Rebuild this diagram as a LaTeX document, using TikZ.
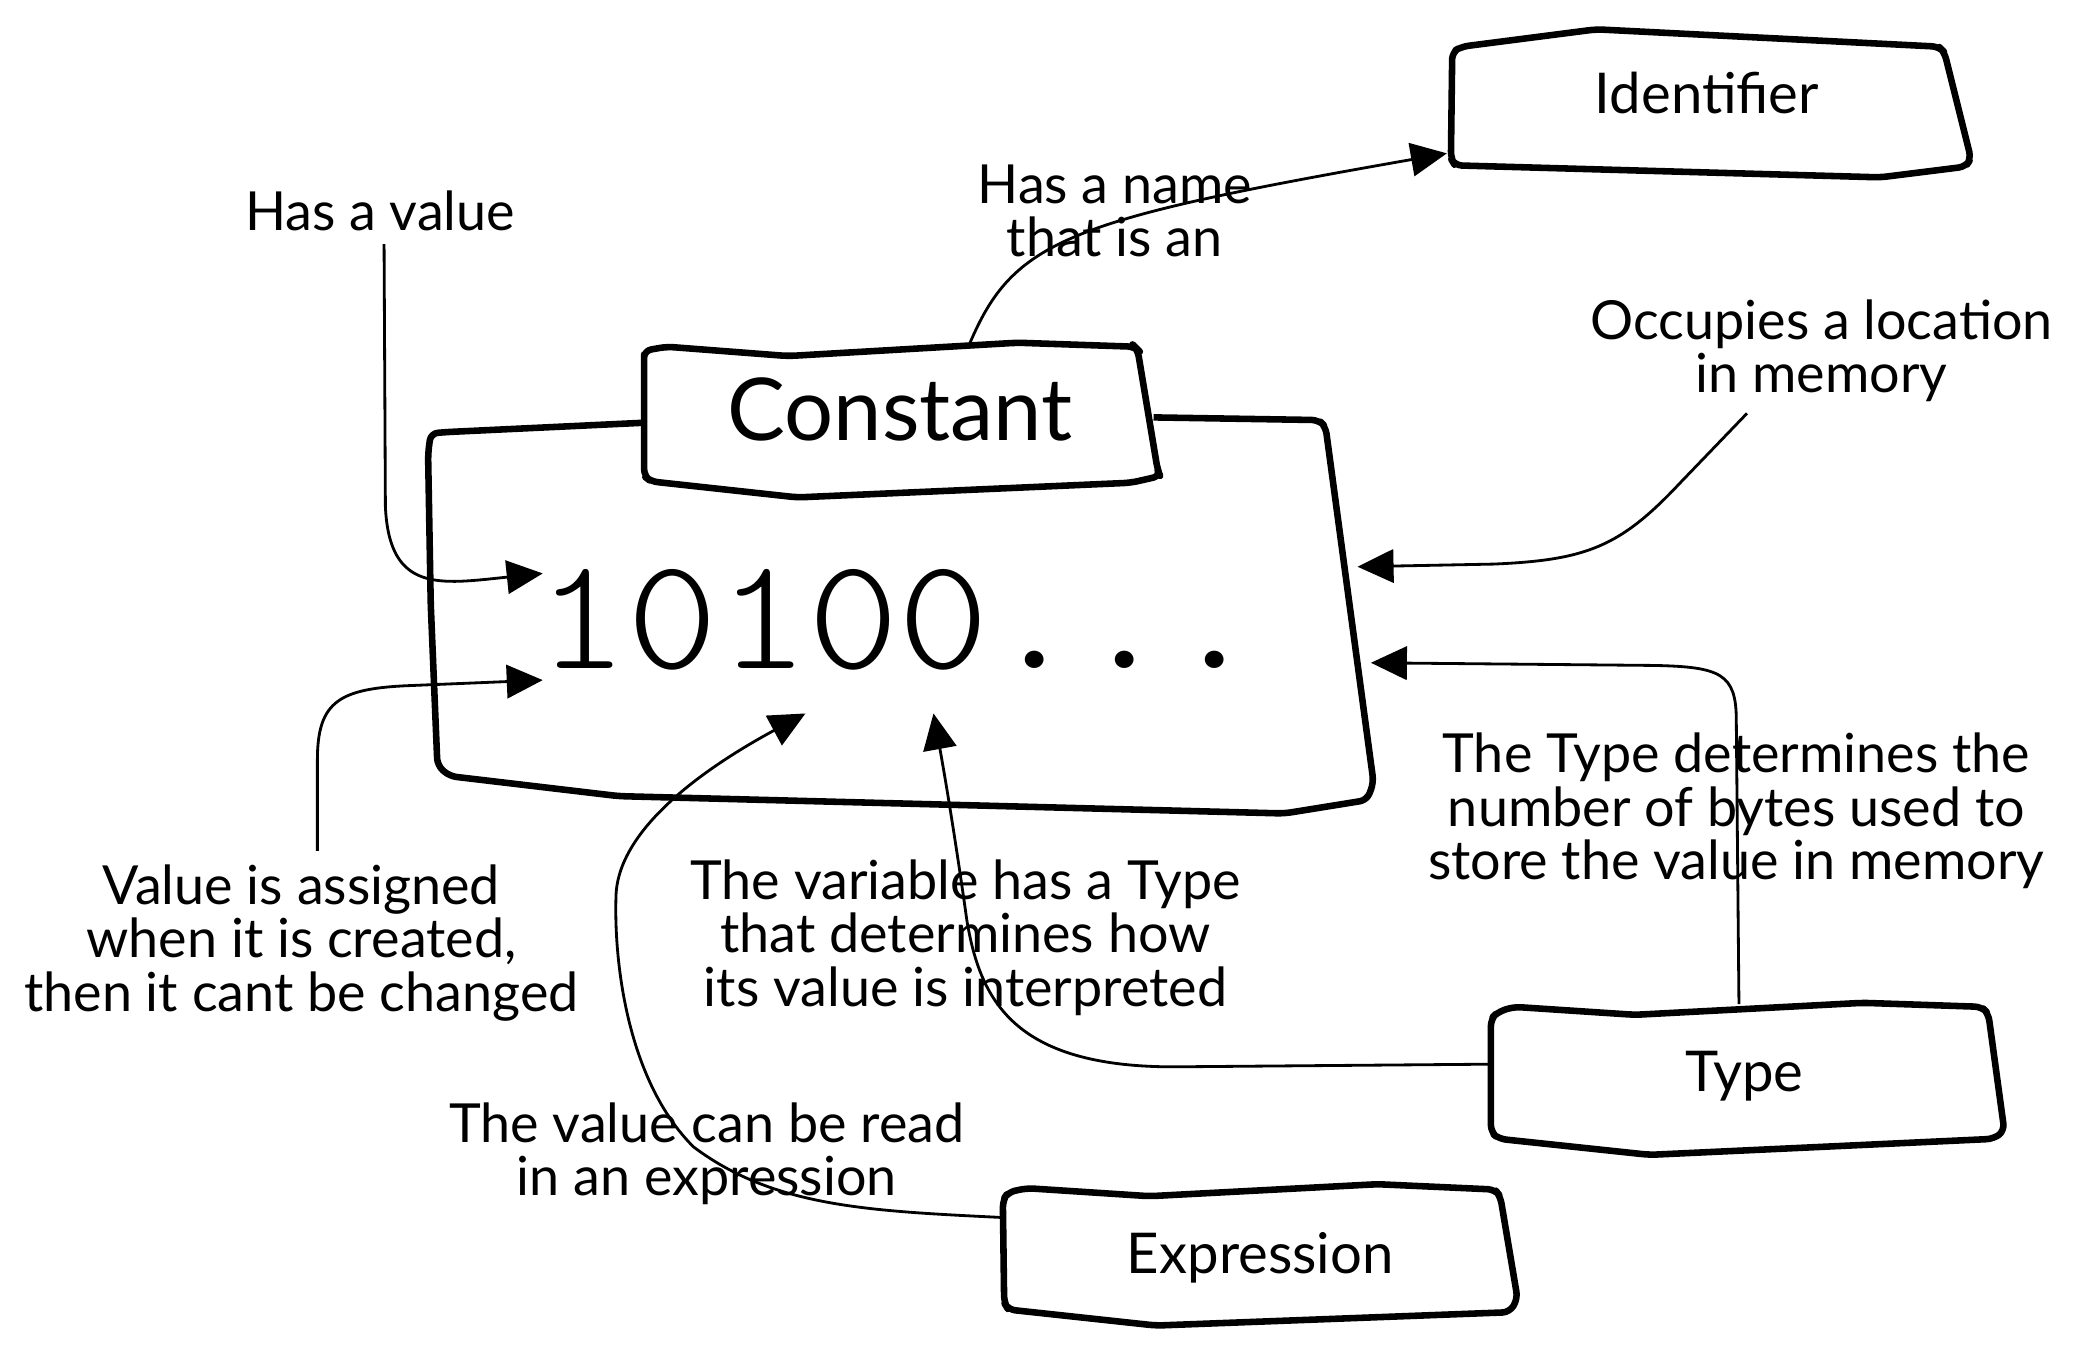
\documentclass[tikz,border=0pt]{standalone}
\usepackage{graphicx}
\usepackage{fontspec}
\setmainfont{Lato}
\newfontfamily\monofont{lmmonolt10-regular.otf}
\usetikzlibrary{arrows.meta}
\begin{document}
\begin{tikzpicture}[x=0.02cm,y=-0.02cm,
  box/.style={line width=2.8pt, line join=round, rounded corners=3pt},
  conn/.style={line width=1.2pt},
  arr/.style={conn, -{Triangle[length=0.54cm,width=0.5cm]}},
  lbl/.style={font=\fontsize{23}{22.8}\selectfont, align=center, inner sep=0pt},
  boxlbl/.style={font=\fontsize{24}{26}\selectfont, inner sep=0pt}]
\useasboundingbox (0,0) rectangle (1568,1016);
% big constant box
\draw[box] (483,317) -- (335,324) -- (323,325) -- (321,340) -- (323,453) -- (328,574) -- (337,582) -- (464,597) -- (963,610) -- (1025,600) -- (1030,587) -- (994,320) -- (989,315) -- (865,313);
% tab
\draw[box, fill=white] (483,271) -- (483,263) -- (500,260) -- (591,267) -- (763,257) -- (851,260) -- (853,262) -- (868,352) -- (870,357) -- (848,362) -- (598,373) -- (488,361) -- (483,357) -- cycle;
% identifier box
\draw[box] (1089,39) -- (1096,35) -- (1197,22) -- (1454,35) -- (1458,39) -- (1478,119) -- (1474,125) -- (1410,133) -- (1091,124) -- (1088,119) -- cycle;
% type box
\draw[box] (1118,764) -- (1123,759) -- (1135,755) -- (1226,761) -- (1397,752) -- (1486,755) -- (1491,760) -- (1503,848) -- (1495,854) -- (1237,866) -- (1124,854) -- (1118,849) -- cycle;
% expression box
\draw[box] (752,900) -- (756,894) -- (770,891) -- (862,897) -- (1033,888) -- (1121,892) -- (1125,897) -- (1138,974) -- (1132,984) -- (867,994) -- (756,982) -- (753,977) -- cycle;

% labels
\node[font=\fontsize{37}{40}\selectfont, inner sep=0pt] (const) at (675,307) {Constant};
\node[font=\monofont\fontsize{68}{70}\selectfont, inner sep=0pt] (value) at (674,465) {\scalebox{1.08}[1]{10100...}};
\node[boxlbl] (ident) at (1280,70) {Identifier};
\node[boxlbl] (type) at (1308,807) {Type};
\node[boxlbl] (expr) at (945,943) {Expression};

\node[lbl] (hasvalue) at (285,158) {Has a value};
\node[lbl] (hasname) at (836,158) {Has a name\\that is an};
\node[lbl] (occupies) at (1366,263) {Occupies a location\\in memory};
\node[lbl] (bytes) at (1302,608) {The Type determines the\\number of bytes used to\\store the value in memory};
\node[lbl] (interp) at (724,703) {The variable has a Type\\that determines how\\its value is interpreted};
\node[lbl] (assigned) at (226,707) {Value is assigned\\when it is created,\\then it cant be changed};
\node[lbl] (read) at (530,865) {The value can be read\\in an expression};

% connector end points
\coordinate (constTop) at (727,258);
\coordinate (identL) at (1085,115);
\coordinate (hvStart) at (288,183);
\coordinate (valTopL) at (407,430);
\coordinate (asStart) at (238,638);
\coordinate (valBotL) at (407,510);
\coordinate (ocStart) at (1310,310);
\coordinate (boxR1) at (1018,425);
\coordinate (typeTop) at (1304,753);
\coordinate (boxR2) at (1028,497);
\coordinate (typeL) at (1118,798);
\coordinate (valBotM) at (700,535);
\coordinate (exprL) at (752,913);
\coordinate (valBotC) at (604,535);

\draw[arr] (constTop) .. controls (760,180) and (800,165) .. (identL);
\draw[arr] (hvStart) -- (289,380) .. controls (292,445) and (330,438) .. (valTopL);
\draw[arr] (asStart) -- (238,570) .. controls (238,525) and (255,516) .. (310,514) -- (valBotL);
\draw[arr] (ocStart) -- (1260,362) .. controls (1215,410) and (1190,420) .. (1120,423) -- (boxR1);
\draw[arr] (typeTop) -- (1302,540) .. controls (1302,505) and (1290,500) .. (1240,499) -- (boxR2);
\draw[arr] (typeL) -- (880,800) .. controls (760,800) and (735,750) .. (725,690) .. controls (718,640) and (710,590) .. (valBotM);
\draw[arr] (exprL) .. controls (650,908) and (580,905) .. (520,860) .. controls (470,810) and (460,720) .. (462,670) .. controls (465,620) and (530,575) .. (valBotC);
\end{tikzpicture}
\end{document}
